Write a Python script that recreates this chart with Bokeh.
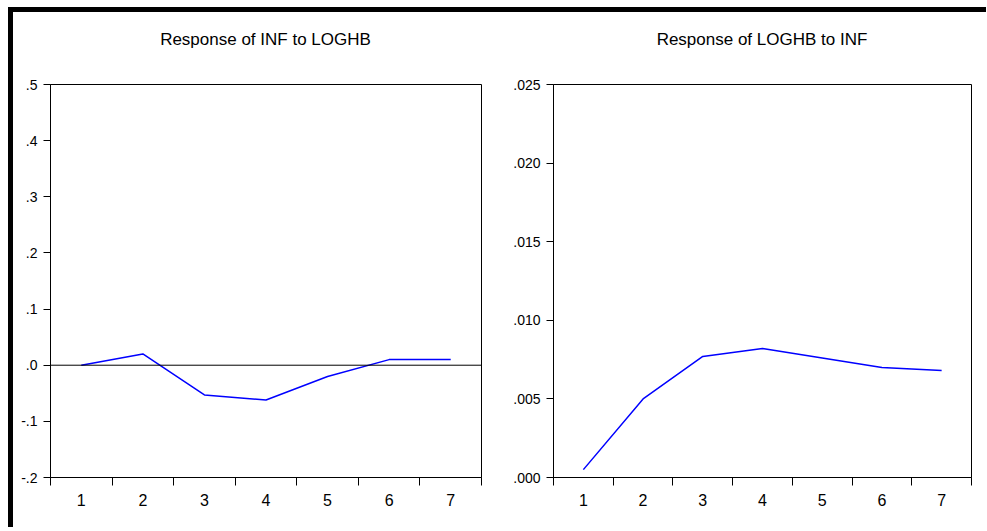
from bokeh.plotting import figure
from bokeh.layouts import row, column
from bokeh.models import FixedTicker, Span, Div
from bokeh.embed import file_html
from bokeh.resources import INLINE

# ---- data ----
periods = [1, 2, 3, 4, 5, 6, 7]
inf_to_loghb = [0.000, 0.020, -0.053, -0.062, -0.020, 0.010, 0.010]
loghb_to_inf = [0.0005, 0.0050, 0.0077, 0.0082, 0.0076, 0.0070, 0.0068]

left_title = "Response of INF to LOGHB"
right_title = "Response of LOGHB to INF"

left_yticks = [-0.2, -0.1, 0.0, 0.1, 0.2, 0.3, 0.4, 0.5]
left_ylabels = ["-.2", "-.1", ".0", ".1", ".2", ".3", ".4", ".5"]
right_yticks = [0.0, 0.005, 0.010, 0.015, 0.020, 0.025]
right_ylabels = [".000", ".005", ".010", ".015", ".020", ".025"]
x_boundaries = [0.5, 1.5, 2.5, 3.5, 4.5, 5.5, 6.5, 7.5]

SANS = "Liberation Sans"
TITLE_H = 44
FIG_H = 471
MB_TOP = 28
MB_BOTTOM = 50


def make_panel(title, xs, ys, yticks, ylabels, yrange, width, mb_left, mb_right, zero_line):
    head = Div(text=title, width=width, height=TITLE_H, margin=(0, 0, 0, 0),
               styles={"font-family": "'Liberation Sans', sans-serif", "font-size": "17px",
                       "color": "#000000", "text-align": "center",
                       "padding-top": "18px", "padding-left": f"{mb_left}px",
                       "padding-right": f"{mb_right}px", "box-sizing": "border-box",
                       "line-height": "20px", "background-color": "white"})
    p = figure(width=width, height=FIG_H, output_backend="svg", toolbar_location=None,
               x_range=(0.5, 7.5), y_range=yrange,
               min_border_left=mb_left, min_border_right=mb_right,
               min_border_top=MB_TOP, min_border_bottom=MB_BOTTOM)
    p.title = None
    p.grid.visible = False
    p.outline_line_color = "#000000"
    p.outline_line_width = 1
    p.background_fill_color = "white"
    p.border_fill_color = "white"

    # x axis: labels at periods, boundary ticks as minor ticks
    p.xaxis.ticker = FixedTicker(ticks=periods, minor_ticks=x_boundaries)
    p.xaxis.major_tick_out = 0
    p.xaxis.major_tick_in = 0
    p.xaxis.minor_tick_out = 8
    p.xaxis.minor_tick_in = 0
    p.xaxis.minor_tick_line_color = "#000000"
    p.xaxis.axis_line_color = "#000000"
    p.xaxis.major_label_text_font = SANS
    p.xaxis.major_label_text_font_size = "16px"
    p.xaxis.major_label_text_color = "#000000"
    p.xaxis.major_label_standoff = 8

    # y axis
    p.yaxis.ticker = FixedTicker(ticks=yticks, minor_ticks=[])
    p.yaxis.major_label_overrides = {tv: lab for tv, lab in zip(yticks, ylabels)}
    p.yaxis.major_tick_out = 7
    p.yaxis.major_tick_in = 0
    p.yaxis.major_tick_line_color = "#000000"
    p.yaxis.axis_line_color = "#000000"
    p.yaxis.major_label_text_font = SANS
    p.yaxis.major_label_text_font_size = "14px"
    p.yaxis.major_label_text_color = "#000000"
    p.yaxis.major_label_standoff = 6

    if zero_line:
        p.add_layout(Span(location=0, dimension="width", line_color="#000000", line_width=1))

    p.line(xs, ys, line_color="#0000FF", line_width=1.5)
    return column(head, p, spacing=0)


c1 = make_panel(left_title, periods, inf_to_loghb, left_yticks, left_ylabels, (-0.2, 0.5),
                487, 37, 19, True)
c2 = make_panel(right_title, periods, loghb_to_inf, right_yticks, right_ylabels, (0.0, 0.025),
                486, 53, 15, False)

top_bar = Div(text="", width=978, height=5, margin=(7, 0, 0, 8),
              styles={"background-color": "black"})
left_bar = Div(text="", width=5, height=TITLE_H + FIG_H, margin=(0, 0, 0, 8),
               styles={"background-color": "black"})

layout = column(top_bar, row(left_bar, c1, c2))
open("out.html", "w").write(file_html(layout, INLINE))
